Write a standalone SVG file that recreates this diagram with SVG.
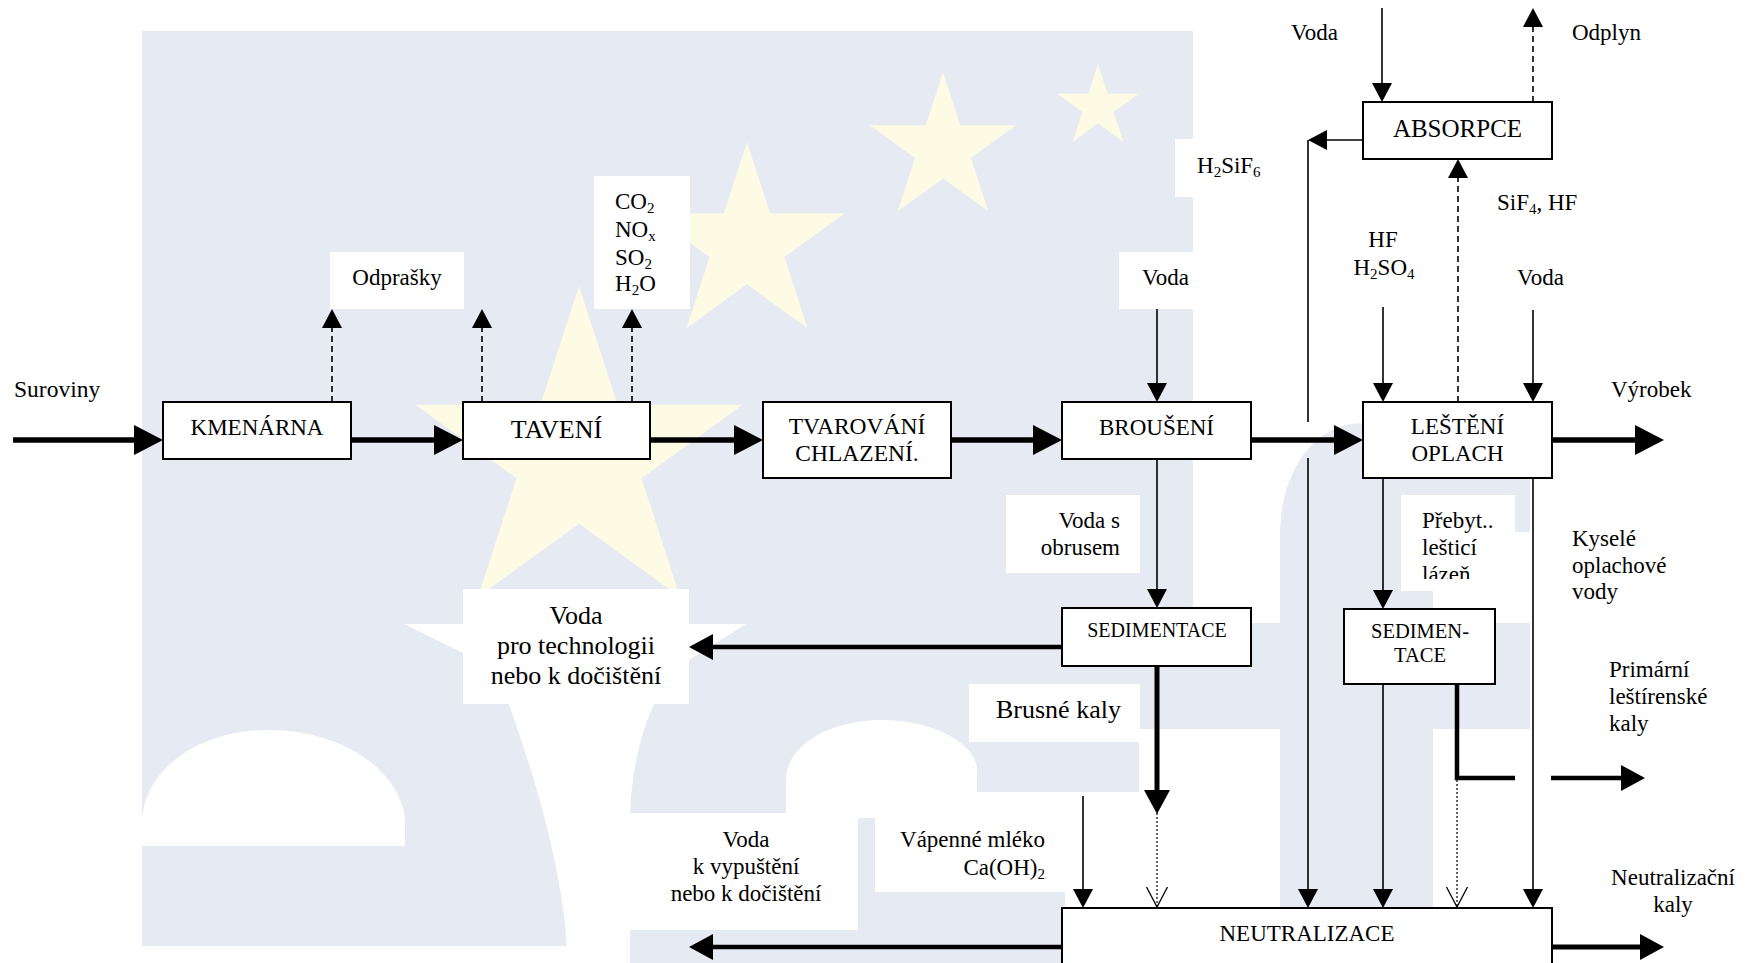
<svg xmlns="http://www.w3.org/2000/svg" width="1746" height="963" viewBox="0 0 1746 963">
<defs>
<style>
.wm{fill:#e6eaf3}
.star{fill:#fdfbe4}
.wh{fill:#ffffff}
.box{fill:#ffffff;stroke:#000;stroke-width:2}
.t{font-family:"Liberation Serif","Times New Roman",serif;font-size:23px;fill:#000}
.big{font-size:26px}
.sm{font-size:20px}
.mid{text-anchor:middle}
.end{text-anchor:end}
.thin{fill:none;stroke:#000;stroke-width:1.6}
.thick{fill:none;stroke:#000;stroke-width:5.5}
.med{fill:none;stroke:#000;stroke-width:4.5}
.dash{stroke-dasharray:6 4}
.dot{fill:none;stroke:#000;stroke-width:1.2;stroke-dasharray:2 2}
</style>
<marker id="a1" viewBox="0 0 19 20" refX="0" refY="10" markerWidth="19" markerHeight="20" markerUnits="userSpaceOnUse" orient="auto"><path d="M0,0 L19,10 L0,20 Z" fill="#000"/></marker>
<marker id="a2" viewBox="0 0 24 26" refX="0" refY="13" markerWidth="24" markerHeight="26" markerUnits="userSpaceOnUse" orient="auto"><path d="M0,0 L24,13 L0,26 Z" fill="#000"/></marker>
<marker id="a3" viewBox="0 0 29 30" refX="0" refY="15" markerWidth="29" markerHeight="30" markerUnits="userSpaceOnUse" orient="auto"><path d="M0,0 L29,15 L0,30 Z" fill="#000"/></marker>
<marker id="av" viewBox="0 0 21 24" refX="20" refY="12" markerWidth="21" markerHeight="24" markerUnits="userSpaceOnUse" orient="auto"><path d="M0,1.5 L20,12 L0,22.5" fill="none" stroke="#000" stroke-width="1.3"/></marker>
<clipPath id="clipPreb"><rect x="1401" y="495" width="114" height="84"/></clipPath>
</defs>

<g id="watermark">
<rect class="wm" x="142" y="31" width="1051" height="698"/>
<rect class="wm" x="142" y="729" width="997" height="234"/>
<path class="wm" d="M1193,623 H1530 V729 H1193 Z"/>
<path class="wm" d="M1280,963 V536 C1280,470 1315,423 1363,423 H1530 V532 H1433 V963 Z"/>
<path class="wh" d="M142,846 V824 C142,772 195,730 268,730 C340,730 398,768 405,818 V846 Z"/>
<rect class="wh" x="142" y="946" width="430" height="17"/>
<path class="wh" d="M509,704 C528,760 560,850 567,946 V963 H630 V813 C632,770 640,735 654,704 Z"/>
<path class="wh" d="M404,624 L463,624 L463,653 Z"/>
<path class="wh" d="M689,624 L746,624 L689,660 Z"/>
<path class="wh" d="M786,818 V780 C786,745 830,720 882,720 C935,720 977,745 977,770 V818 Z"/>
<rect class="wh" x="977" y="792" width="162" height="24"/>
<rect class="wh" x="1065" y="792" width="74" height="171"/>
<polygon class="star" points="579,286 617.6,404.8 742.6,404.8 641.5,478.3 680.1,597.1 579,523.7 477.9,597.1 516.5,478.3 415.4,404.8 540.4,404.8"/>
<polygon class="star" points="747,142 770.1,213.2 845,213.2 784.4,257.1 807.5,328.3 747,284.3 686.5,328.3 709.6,257.1 649,213.2 723.9,213.2"/>
<polygon class="star" points="943,72 960.3,125.2 1016.2,125.2 971,158.1 988.3,211.3 943,178.4 897.7,211.3 915,158.1 869.8,125.2 925.7,125.2"/>
<polygon class="star" points="1098,64 1107.6,93.7 1138.9,93.7 1113.6,112.1 1123.3,141.8 1098,123.4 1072.7,141.8 1082.4,112.1 1057.1,93.7 1088.4,93.7"/>
<rect class="wh" x="330" y="252" width="134" height="57"/>
<rect class="wh" x="594" y="176" width="96" height="133"/>
<rect class="wh" x="1119" y="252" width="81" height="57"/>
<rect class="wh" x="1175" y="139" width="113" height="58"/>
<rect class="wh" x="463" y="589" width="226" height="115"/>
<rect class="wh" x="1006" y="495" width="134" height="78"/>
<rect class="wh" x="969" y="684" width="171" height="58"/>
<rect class="wh" x="875" y="815" width="190" height="77"/>
<rect class="wh" x="630" y="813" width="228" height="117"/>
<rect class="wh" x="1401" y="495" width="114" height="96"/>
</g>

<g id="connectors">
<path class="thick" d="M13,440 H134" marker-end="url(#a3)"/>
<path class="thick" d="M351,440 H434" marker-end="url(#a3)"/>
<path class="thick" d="M650,440 H734" marker-end="url(#a3)"/>
<path class="thick" d="M951,440 H1033" marker-end="url(#a3)"/>
<path class="thick" d="M1251,440 H1334" marker-end="url(#a3)"/>
<path class="thick" d="M1552,440 H1635" marker-end="url(#a3)"/>
<path class="thin dash" d="M332,402 V328" marker-end="url(#a1)"/>
<path class="thin dash" d="M482,402 V328" marker-end="url(#a1)"/>
<path class="thin dash" d="M632,402 V328" marker-end="url(#a1)"/>
<path class="thin dash" d="M1533,102 V27" marker-end="url(#a1)"/>
<path class="thin dash" d="M1458,402 V178" marker-end="url(#a1)"/>
<path class="thin" d="M1382,8 V83" marker-end="url(#a1)"/>
<path class="thin" d="M1157,309 V383" marker-end="url(#a1)"/>
<path class="thin" d="M1383,307 V383" marker-end="url(#a1)"/>
<path class="thin" d="M1533,310 V383" marker-end="url(#a1)"/>
<path class="thin" d="M1157,459 V589" marker-end="url(#a1)"/>
<path class="thin" d="M1383,478 V590" marker-end="url(#a1)"/>
<path class="thin" d="M1363,140 H1327" marker-end="url(#a1)"/>
<path class="thin" d="M1308,140 V422"/>
<path class="thin" d="M1308,458 V889" marker-end="url(#a1)"/>
<path class="thin" d="M1383,684 V889" marker-end="url(#a1)"/>
<path class="thin" d="M1533,478 V889" marker-end="url(#a1)"/>
<path class="thin" d="M1083,796 V889" marker-end="url(#a1)"/>
<path class="thick" d="M1157,666 V790" style="stroke-width:5" marker-end="url(#a2)"/>
<path class="dot" d="M1157,813 V907" marker-end="url(#av)"/>
<path class="med" d="M1457,684 V778 H1515"/>
<path class="med" d="M1551,778 H1621" marker-end="url(#a2)"/>
<path class="dot" d="M1457,780 V907" marker-end="url(#av)"/>
<path class="med" d="M1062,647 H713" marker-end="url(#a2)"/>
<path class="med" d="M1062,947 H713" marker-end="url(#a2)"/>
<path class="thick" d="M1552,947 H1640" style="stroke-width:5" marker-end="url(#a2)"/>
</g>

<g id="kmenarna"><rect class="box" x="163" y="402" width="188" height="57"/><text class="t mid" x="257" y="435">KMENÁRNA</text></g>
<g id="taveni"><rect class="box" x="463" y="402" width="187" height="57"/><text class="t big mid" x="556.5" y="438">TAVENÍ</text></g>
<g id="tvarovani"><rect class="box" x="763" y="402" width="188" height="76"/><text class="t mid" x="857" y="434" style="font-size:23.5px">TVAROVÁNÍ</text><text class="t mid" x="857" y="461" style="font-size:23.5px">CHLAZENÍ.</text></g>
<g id="brouseni"><rect class="box" x="1062" y="402" width="189" height="57"/><text class="t mid" x="1156.5" y="435">BROUŠENÍ</text></g>
<g id="lesteni"><rect class="box" x="1363" y="402" width="189" height="76"/><text class="t mid" x="1457.5" y="434">LEŠTĚNÍ</text><text class="t mid" x="1457.5" y="461">OPLACH</text></g>
<g id="absorpce"><rect class="box" x="1363" y="102" width="189" height="57"/><text class="t mid" x="1457.5" y="137" style="font-size:25px">ABSORPCE</text></g>
<g id="sedimentace1"><rect class="box" x="1062" y="608" width="189" height="58"/><text class="t sm mid" x="1157" y="637">SEDIMENTACE</text></g>
<g id="sedimentace2"><rect class="box" x="1344" y="609" width="151" height="75"/><text class="t mid" x="1420" y="638" style="font-size:20.5px">SEDIMEN-</text><text class="t mid" x="1420" y="662" style="font-size:20.5px">TACE</text></g>
<g id="neutralizace"><rect class="box" x="1062" y="908" width="490" height="70"/><text class="t mid" x="1307" y="941">NEUTRALIZACE</text></g>

<g id="labels">
<text class="t" x="14" y="397" style="font-size:23.5px">Suroviny</text>
<text class="t mid" x="397" y="285">Odprašky</text>
<text class="t" x="615" y="209">CO<tspan font-size="15" dy="4">2</tspan></text>
<text class="t" x="615" y="237">NO<tspan font-size="15" dy="4">x</tspan></text>
<text class="t" x="615" y="265">SO<tspan font-size="15" dy="4">2</tspan></text>
<text class="t" x="615" y="291">H<tspan font-size="15" dy="4">2</tspan><tspan dy="-4">O</tspan></text>
<text class="t" x="1142" y="285">Voda</text>
<text class="t" x="1197" y="173">H<tspan font-size="15" dy="4">2</tspan><tspan dy="-4">SiF</tspan><tspan font-size="15" dy="4">6</tspan></text>
<text class="t" x="1291" y="40">Voda</text>
<text class="t" x="1572" y="40">Odplyn</text>
<text class="t" x="1497" y="210">SiF<tspan font-size="15" dy="4">4</tspan><tspan dy="-4">, HF</tspan></text>
<text class="t mid" x="1383" y="247">HF</text>
<text class="t mid" x="1384" y="275">H<tspan font-size="15" dy="4">2</tspan><tspan dy="-4">SO</tspan><tspan font-size="15" dy="4">4</tspan></text>
<text class="t" x="1517" y="285">Voda</text>
<text class="t" x="1611" y="397">Výrobek</text>
<text class="t end" x="1120" y="528">Voda s</text>
<text class="t end" x="1120" y="555">obrusem</text>
<text class="t big mid" x="576" y="624">Voda</text>
<text class="t big mid" x="576" y="654">pro technologii</text>
<text class="t big mid" x="576" y="684">nebo k dočištění</text>
<text class="t big" x="996" y="718">Brusné kaly</text>
<text class="t end" x="1045" y="847">Vápenné mléko</text>
<text class="t end" x="1045" y="875">Ca(OH)<tspan font-size="15" dy="4">2</tspan></text>
<text class="t mid" x="746" y="847">Voda</text>
<text class="t mid" x="746" y="874">k vypuštění</text>
<text class="t mid" x="746" y="901">nebo k dočištění</text>
<g clip-path="url(#clipPreb)">
<text class="t" x="1422" y="528">Přebyt..</text>
<text class="t" x="1422" y="555">lešticí</text>
<text class="t" x="1422" y="582">lázeň</text>
</g>
<text class="t" x="1572" y="546">Kyselé</text>
<text class="t" x="1572" y="573">oplachové</text>
<text class="t" x="1572" y="599">vody</text>
<text class="t" x="1609" y="677">Primární</text>
<text class="t" x="1609" y="704">leštírenské</text>
<text class="t" x="1609" y="731">kaly</text>
<text class="t mid" x="1673" y="885">Neutralizační</text>
<text class="t mid" x="1673" y="912">kaly</text>
</g>
</svg>
